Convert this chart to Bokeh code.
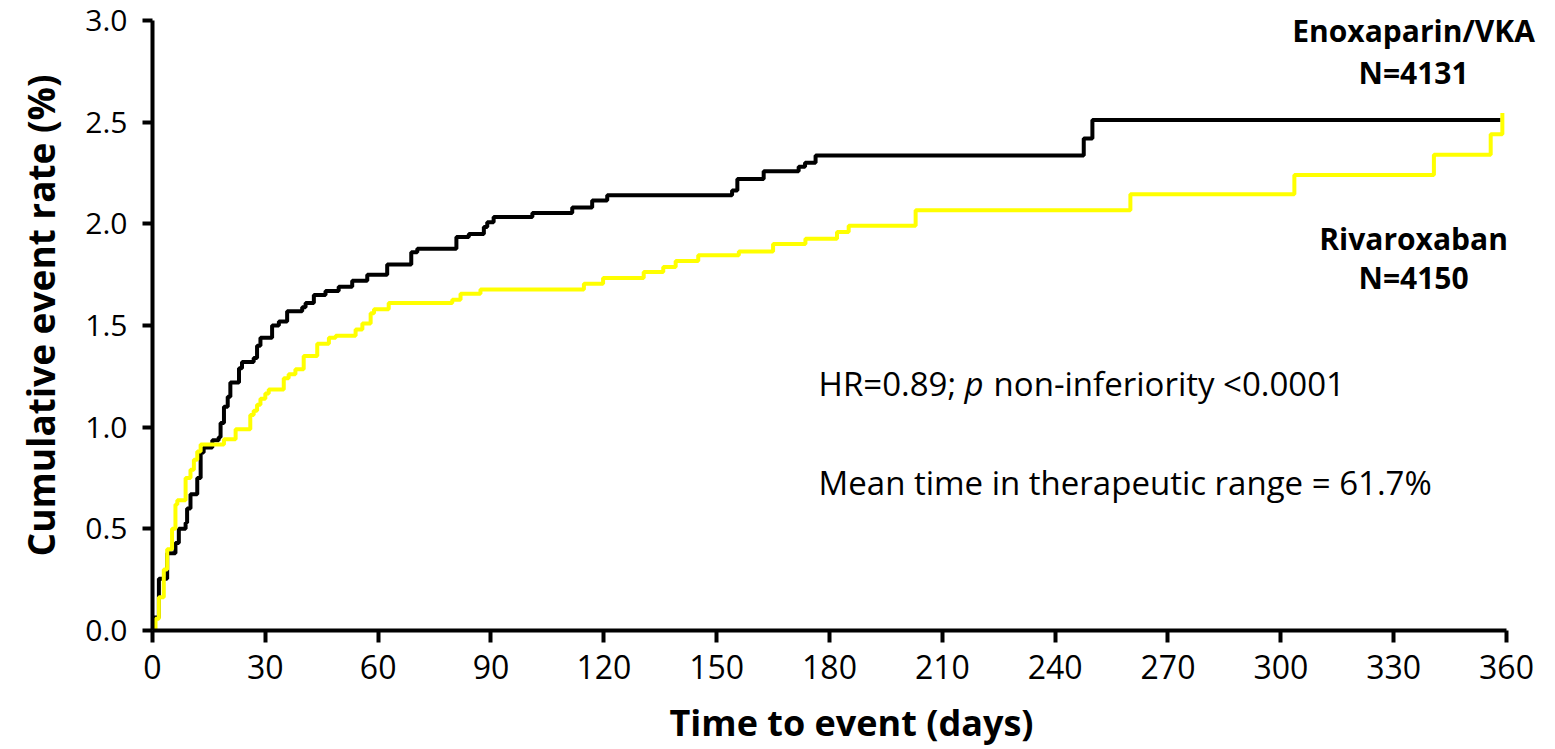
from bokeh.plotting import figure
from bokeh.models import Range1d, Label, FixedTicker
from bokeh.embed import file_html
from bokeh.resources import INLINE

# ---- data ----
enox_days = [0, 0.35, 1.7, 3.9, 6.1, 7, 8.8, 9.2, 10.1, 11.9, 12.8, 13.6, 15.9, 17.6, 18.1, 19, 20, 20.7,
             23, 23.8, 26.9, 27.8, 28.7, 31.8, 33.6, 35.8, 39.8, 40.7, 42.9, 46, 49.5, 53.1, 57.1, 62.4,
             68.8, 70.4, 80.8, 84.1, 88.1, 89, 90.7, 101, 111.6, 116.9, 120.9, 154.1, 155.5, 162.5,
             171.8, 173.5, 176.3, 247.6, 249.9, 358.4]
enox_rate = [0, 0.064, 0.255, 0.38, 0.43, 0.50, 0.53, 0.6, 0.67, 0.75, 0.875, 0.9, 0.935, 0.95, 1.02, 1.1,
             1.15, 1.22, 1.29, 1.32, 1.34, 1.4, 1.44, 1.5, 1.52, 1.57, 1.59, 1.61, 1.65, 1.67, 1.69, 1.72,
             1.75, 1.80, 1.86, 1.877, 1.935, 1.95, 1.984, 2.008, 2.033, 2.053, 2.08, 2.115, 2.14, 2.164,
             2.22, 2.258, 2.28, 2.30, 2.336, 2.42, 2.51, 2.51]

riva_days = [0, 0.8, 1.7, 3.0, 3.9, 5.2, 6.1, 6.6, 8.8, 10.1, 11.0, 11.9, 12.8, 19, 22.1, 26, 26.9, 27.8,
             28.7, 30, 30.9, 34.9, 36.2, 38, 40.2, 43.8, 46.9, 48.7, 54, 55.8, 58, 58.9, 62.8, 79.7, 81.9,
             87.2, 114.7, 119.8, 130.6, 135.8, 139.1, 145.1, 155.9, 165, 173.6, 182, 185.1, 202.9, 260,
             303.6, 340.7, 355.8, 358.9]
riva_rate = [0, 0.058, 0.164, 0.30, 0.40, 0.50, 0.62, 0.64, 0.75, 0.79, 0.84, 0.88, 0.915, 0.94, 0.99, 1.06,
             1.08, 1.11, 1.14, 1.165, 1.185, 1.24, 1.26, 1.285, 1.35, 1.41, 1.44, 1.45, 1.48, 1.51, 1.56,
             1.58, 1.61, 1.627, 1.656, 1.677, 1.705, 1.733, 1.763, 1.787, 1.817, 1.845, 1.864, 1.90, 1.927,
             1.96, 1.99, 2.066, 2.145, 2.24, 2.34, 2.44, 2.545]

x_ticks = [0, 30, 60, 90, 120, 150, 180, 210, 240, 270, 300, 330, 360]
y_ticks = [0.0, 0.5, 1.0, 1.5, 2.0, 2.5, 3.0]
y_tick_labels = {0.0: "0.0", 0.5: "0.5", 1.0: "1.0", 1.5: "1.5", 2.0: "2.0", 2.5: "2.5", 3.0: "3.0"}

FONT = "Open Sans"

# frame spans a little beyond the axes so the side labels are not clipped;
# the axes themselves are bounded to 0-360 days and 0-3.0 %
p = figure(width=1555, height=749, output_backend="svg", toolbar_location=None,
           x_range=Range1d(0, 371.7), y_range=Range1d(0, 3.098),
           min_border_left=152, min_border_right=5, min_border_top=0, min_border_bottom=119)
p.outline_line_color = None
p.xgrid.visible = False
p.ygrid.visible = False
p.background_fill_color = "white"
p.border_fill_color = "white"

p.step(enox_days, enox_rate, mode="after", line_color="black", line_width=4)
p.step(riva_days, riva_rate, mode="after", line_color="#FFFF00", line_width=4)

for ax in (p.xaxis[0], p.yaxis[0]):
    ax.axis_line_width = 4
    ax.axis_line_color = "black"
    ax.major_tick_line_width = 4
    ax.major_tick_line_color = "black"
    ax.minor_tick_line_color = None
    ax.major_tick_in = 0
    ax.major_label_text_font = FONT
    ax.major_label_text_color = "black"
    ax.axis_label_text_font = FONT
    ax.axis_label_text_font_style = "bold"
    ax.axis_label_text_color = "black"

p.xaxis.bounds = (0, 360)
p.xaxis.ticker = FixedTicker(ticks=x_ticks)
p.xaxis.major_tick_out = 12
p.xaxis.major_label_text_font_size = "32px"
p.xaxis.major_label_standoff = 12
p.xaxis.axis_label = "Time to event (days)"
p.xaxis.axis_label_text_font_size = "36px"
p.xaxis.axis_label_standoff = 16

p.yaxis.bounds = (0, 3)
p.yaxis.ticker = FixedTicker(ticks=y_ticks)
p.yaxis.major_label_overrides = y_tick_labels
p.yaxis.major_tick_out = 10
p.yaxis.major_label_text_font_size = "30px"
p.yaxis.major_label_standoff = 15
p.yaxis.axis_label = "Cumulative event rate (%)"
p.yaxis.axis_label_text_font_size = "37px"
p.yaxis.axis_label_standoff = 16

def lab(x, y, text, size="30px", style="bold", align="center", xoff=0):
    p.add_layout(Label(x=x, y=y, text=text, text_font=FONT, text_font_size=size,
                       text_font_style=style, text_align=align, text_baseline="middle",
                       text_color="black", x_offset=xoff))

lab(335.3, 2.951, "Enoxaparin/VKA")
lab(335.3, 2.744, "N=4131")
lab(335.3, 1.928, "Rivaroxaban")
lab(335.3, 1.736, "N=4150")

lab(177.1, 1.215, "HR=0.89;", size="33px", style="normal", align="left")
lab(177.1, 1.215, "p", size="33px", style="italic", align="left", xoff=146)
lab(177.1, 1.215, "non-inferiority <0.0001", size="33px", style="normal", align="left", xoff=175)
lab(177.1, 0.728, "Mean time in therapeutic range = 61.7%", size="33px", style="normal", align="left")

open("out.html", "w").write(file_html(p, INLINE))
